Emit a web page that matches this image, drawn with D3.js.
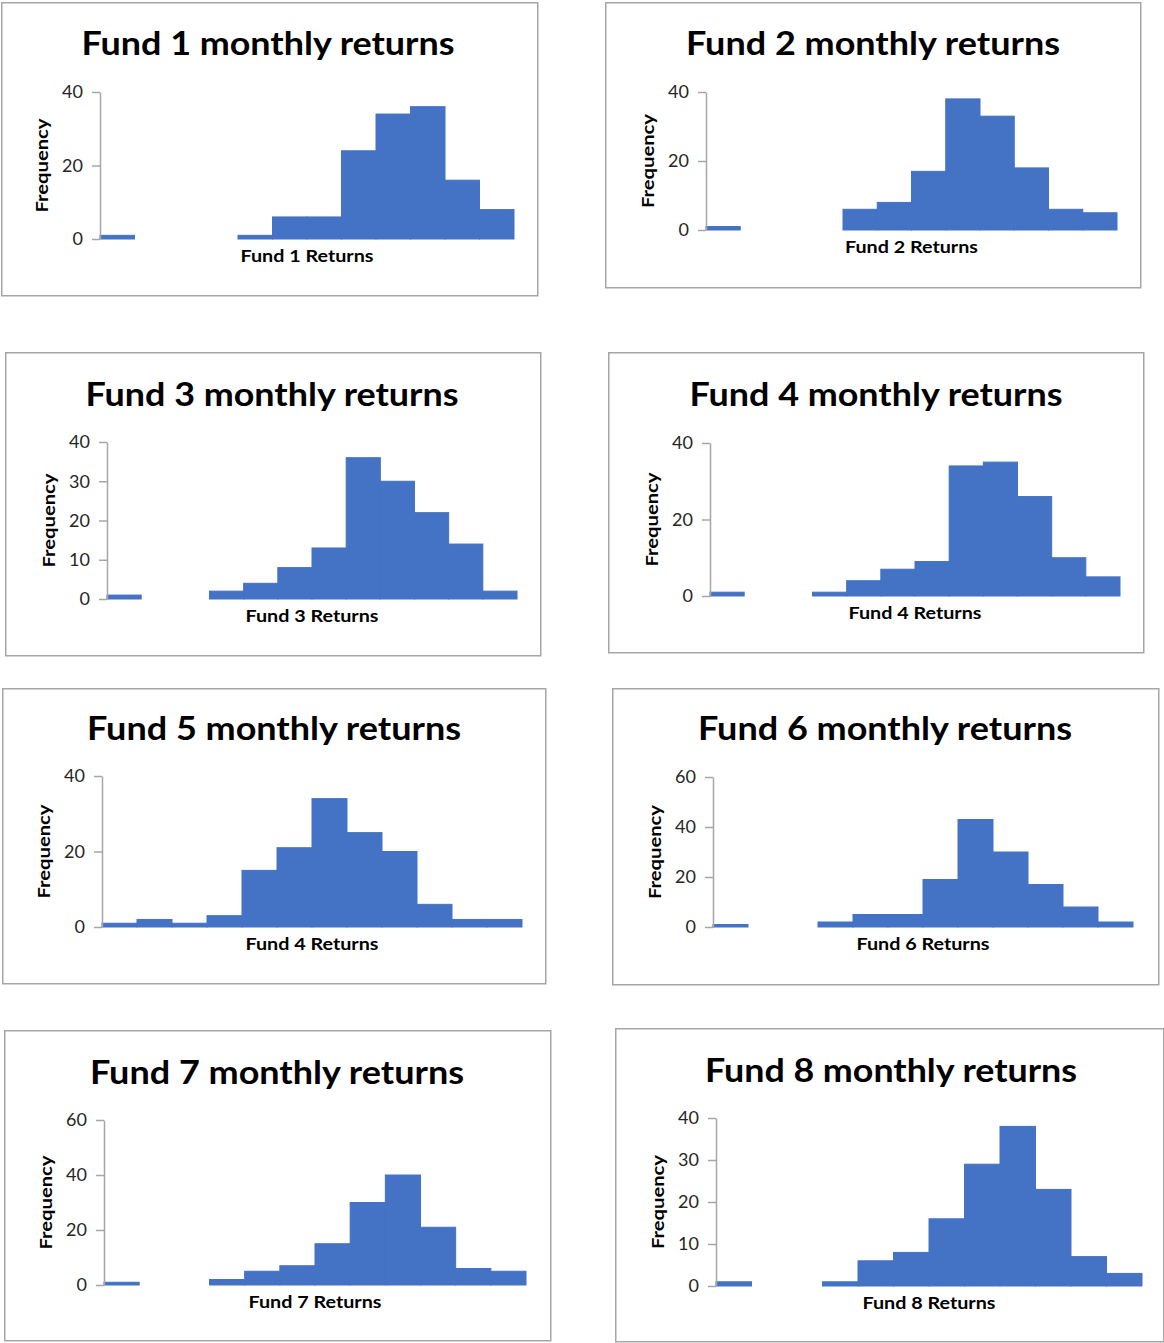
<!DOCTYPE html>
<html><head><meta charset="utf-8">
<script src="https://cdn.jsdelivr.net/npm/d3@7"></script>
<style>body{margin:0;background:#fff} svg{display:block}</style>
</head><body>
<svg id="chart" width="1164" height="1343"></svg>
<script>
// ---- data ----
const bins = ["Bin 1","Bin 2","Bin 3","Bin 4","Bin 5","Bin 6","Bin 7","Bin 8","Bin 9","Bin 10","Bin 11","Bin 12"];
const fund1 = [1,0,0,0,1,6,6,24,34,36,16,8];
const fund2 = [1,0,0,0,6,8,17,38,33,18,6,5];
const fund3 = [1,0,0,2,4,8,13,36,30,22,14,2];
const fund4 = [1,0,0,1,4,7,9,34,35,26,10,5];
const fund5 = [1,2,1,3,15,21,34,25,20,6,2,2];
const fund6 = [1,0,0,2,5,5,19,43,30,17,8,2];
const fund7 = [1,0,0,2,5,7,15,30,40,21,6,5];
const fund8 = [1,0,0,1,6,8,16,29,38,23,7,3];
const titles = ["Fund 1 monthly returns","Fund 2 monthly returns","Fund 3 monthly returns","Fund 4 monthly returns",
                "Fund 5 monthly returns","Fund 6 monthly returns","Fund 7 monthly returns","Fund 8 monthly returns"];
const xLabels = ["Fund 1 Returns","Fund 2 Returns","Fund 3 Returns","Fund 4 Returns",
                 "Fund 4 Returns","Fund 6 Returns","Fund 7 Returns","Fund 8 Returns"];
const yLabel = "Frequency";
const ticks40 = [0,20,40];
const ticks40by10 = [0,10,20,30,40];
const ticks60 = [0,20,40,60];

const series = [fund1,fund2,fund3,fund4,fund5,fund6,fund7,fund8];
const tickSets = [ticks40,ticks40,ticks40by10,ticks40,ticks40,ticks60,ticks60,ticks40by10];

// ---- layout (positions only) ----
const layout = [
  {box:[1,2,536,293],    x0:100, x1:514,  yTop:92,   y0:239,  tx:268, ty:55,   tw:373},
  {box:[605,2,535,285],  x0:706, x1:1117, yTop:92,   y0:230,  tx:873, ty:55,   tw:374},
  {box:[5,352,535,303],  x0:107, x1:517,  yTop:442,  y0:599,  tx:272, ty:406,  tw:373},
  {box:[608,352,535,300],x0:710, x1:1120, yTop:443,  y0:596,  tx:876, ty:406,  tw:373},
  {box:[2,688,543,295],  x0:102, x1:522,  yTop:776,  y0:927,  tx:274, ty:740,  tw:374},
  {box:[612,688,546,296],x0:713, x1:1133, yTop:777,  y0:927,  tx:885, ty:740,  tw:374},
  {box:[4,1030,546,310], x0:104, x1:526,  yTop:1120, y0:1285, tx:277, ty:1084, tw:374},
  {box:[615,1028,548,313],x0:716,x1:1142, yTop:1118, y0:1286, tx:891, ty:1082, tw:372}
];

const FONT = "Lato, 'Open Sans', sans-serif";
const svg = d3.select("#chart");
svg.append("rect").attr("width",1164).attr("height",1343).attr("fill","#fff");

series.forEach((vals, i) => {
  const L = layout[i];
  const ticks = tickSets[i];
  const g = svg.append("g");
  g.append("rect")
    .attr("x", L.box[0]+0.75).attr("y", L.box[1]+0.75)
    .attr("width", L.box[2]).attr("height", L.box[3])
    .attr("fill","#fff").attr("stroke","#a6a6a6").attr("stroke-width",1.5);

  g.append("text")
    .attr("x", L.tx).attr("y", L.ty)
    .attr("text-anchor","middle")
    .attr("font-family", FONT).attr("font-weight","bold").attr("font-size",32)
    .attr("textLength", L.tw).attr("lengthAdjust","spacingAndGlyphs")
    .attr("fill","#000").text(titles[i]);

  const x = d3.scaleBand().domain(bins).range([L.x0, L.x1]).padding(0);
  const y = d3.scaleLinear().domain([0, d3.max(ticks)]).range([L.y0, L.yTop]);

  g.selectAll("rect.bar").data(vals).enter().append("rect")
    .attr("class","bar")
    .attr("x",(d,j)=>x(bins[j]))
    .attr("width", x.bandwidth())
    .attr("y", d=>y(d))
    .attr("height", d=>y(0)-y(d))
    .attr("fill","#4472C4")
    .attr("stroke", d=> d>0 ? "#4472C4" : "none").attr("stroke-width",1);

  const ax = g.append("g").attr("transform",`translate(${L.x0},0)`)
    .call(d3.axisLeft(y).tickValues(ticks).tickSize(8).tickSizeOuter(0).tickPadding(9).tickFormat(d3.format("d")));
  ax.select(".domain").attr("stroke","#a6a6a6").attr("stroke-width",1.5);
  ax.selectAll(".tick line").attr("stroke","#a6a6a6").attr("stroke-width",1.5);
  ax.selectAll(".tick text").attr("font-family",FONT).attr("font-size",18).attr("fill","#262626");

  g.append("text")
    .attr("transform",`translate(${L.x0-59},${(L.y0+L.yTop)/2}) rotate(-90)`)
    .attr("text-anchor","middle").attr("dominant-baseline","central")
    .attr("font-family",FONT).attr("font-weight","bold").attr("font-size",17)
    .attr("textLength",94).attr("lengthAdjust","spacingAndGlyphs")
    .attr("fill","#000").text(yLabel);

  g.append("text")
    .attr("x",(L.x0+L.x1)/2).attr("y",L.y0+23)
    .attr("text-anchor","middle")
    .attr("font-family",FONT).attr("font-weight","bold").attr("font-size",17)
    .attr("textLength",133).attr("lengthAdjust","spacingAndGlyphs")
    .attr("fill","#000").text(xLabels[i]);
});
</script>
</body></html>
